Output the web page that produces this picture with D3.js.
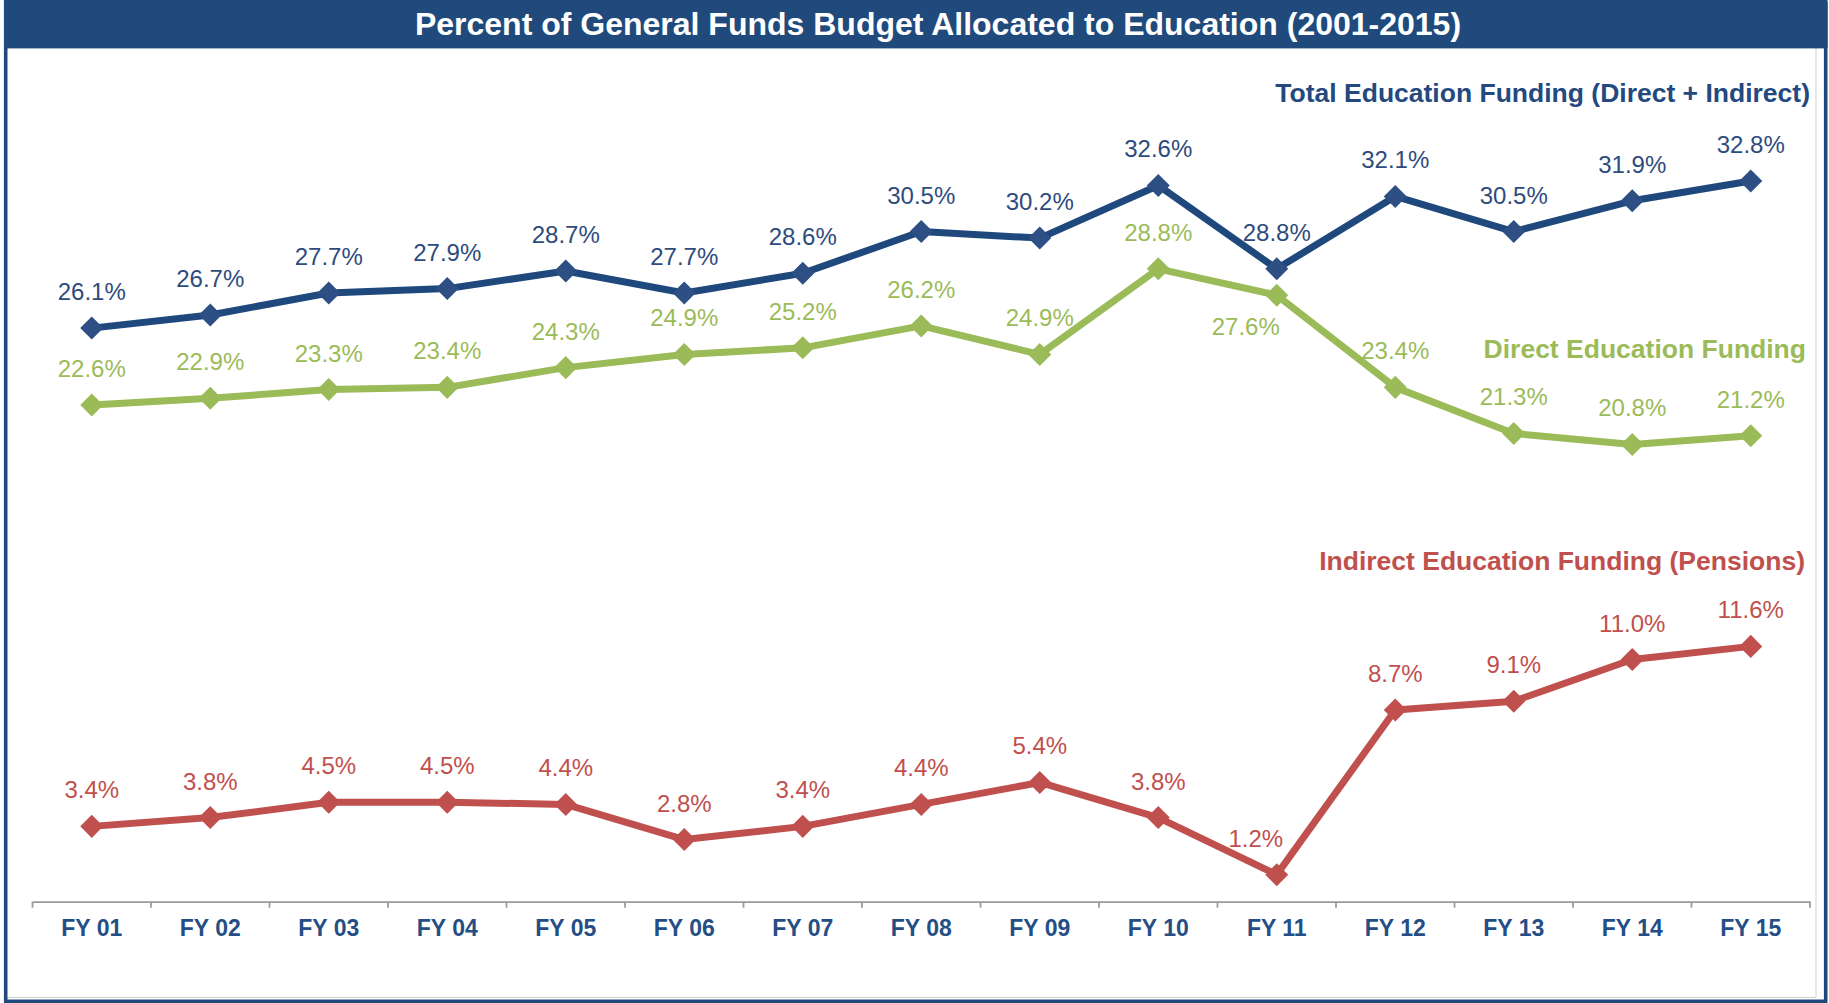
<!DOCTYPE html>
<html>
<head>
<meta charset="utf-8">
<script src="https://cdn.jsdelivr.net/npm/d3@7"></script>
<style>
  html, body { margin: 0; padding: 0; background: #fff; }
  svg { display: block; }
  text { font-family: "Liberation Sans", Arial, Helvetica, sans-serif; }
</style>
</head>
<body>
<div id="chart"></div>
<script>
// ---- Data ----
const categories = ["FY 01","FY 02","FY 03","FY 04","FY 05","FY 06","FY 07","FY 08","FY 09","FY 10","FY 11","FY 12","FY 13","FY 14","FY 15"];
const totalFunding    = [26.1, 26.7, 27.7, 27.9, 28.7, 27.7, 28.6, 30.5, 30.2, 32.6, 28.8, 32.1, 30.5, 31.9, 32.8];
const directFunding   = [22.6, 22.9, 23.3, 23.4, 24.3, 24.9, 25.2, 26.2, 24.9, 28.8, 27.6, 23.4, 21.3, 20.8, 21.2];
const indirectFunding = [3.4, 3.8, 4.5, 4.5, 4.4, 2.8, 3.4, 4.4, 5.4, 3.8, 1.2, 8.7, 9.1, 11.0, 11.6];
const seriesNames = ["Total Education Funding (Direct + Indirect)", "Direct Education Funding", "Indirect Education Funding (Pensions)"];
const titleText = "Percent of General Funds Budget Allocated to Education (2001-2015)";

// ---- Layout / style ----
const W = 1829, H = 1003;
const series = [
  { name: seriesNames[0], values: totalFunding,    line: "#1F497D", marker: "#2D4F84", label: "#2E4B7D", nameFill: "#23497F",
    nameX: 1810, nameY: 102 },
  { name: seriesNames[1], values: directFunding,   line: "#9BBB59", marker: "#9BBB59", label: "#9BBB59", nameFill: "#9BBB59",
    nameX: 1806, nameY: 358 },
  { name: seriesNames[2], values: indirectFunding, line: "#C0504D", marker: "#C0504D", label: "#C0504D", nameFill: "#C0504D",
    nameX: 1805, nameY: 570 }
];
// label placement tweaks (series index, category index) -> offset
const labelTweaks = { "1-10": { dx: -31, dy: 40 }, "2-10": { dx: -21, dy: -28 } };

const svg = d3.select("#chart").append("svg").attr("width", W).attr("height", H);

// frame
svg.append("rect").attr("x", 0).attr("y", 0).attr("width", W).attr("height", H).attr("fill", "#fff");
svg.append("line").attr("x1", 1816).attr("x2", 1816).attr("y1", 48).attr("y2", 997)
  .attr("stroke", "#cfcfcf").attr("stroke-width", 1);
svg.append("line").attr("x1", 7).attr("x2", 1816).attr("y1", 997.5).attr("y2", 997.5)
  .attr("stroke", "#cfcfcf").attr("stroke-width", 1);
svg.append("rect").attr("x", 5.7).attr("y", 1.8).attr("width", 1820).attr("height", 999.5)
  .attr("fill", "none").attr("stroke", "#1F497D").attr("stroke-width", 3.6);
svg.append("rect").attr("x", 4).attr("y", 1.8).attr("width", 1823.6).attr("height", 46.6)
  .attr("fill", "#214A7C");
svg.append("text").attr("x", 938).attr("y", 35).attr("text-anchor", "middle")
  .attr("fill", "#fff").attr("font-weight", "bold").attr("font-size", 32).text(titleText);

// scales
const x = d3.scaleBand().domain(categories).range([32.5, 1810]).padding(0);
const y = d3.scaleLinear().domain([0, 35]).range([901, 901 - 35 * 21.95]);
const cx = c => x(c) + x.bandwidth() / 2;

// axis
const axisG = svg.append("g").attr("transform", "translate(0,901.7)");
const axis = d3.axisBottom(x).tickSize(0).tickPadding(18);
axisG.call(axis);
axisG.select(".domain").attr("stroke", "#9a9a9a").attr("stroke-width", 1.8);
axisG.selectAll(".tick text")
  .attr("font-family", "'Liberation Sans', Arial, sans-serif")
  .attr("font-size", 23).attr("font-weight", "bold").attr("fill", "#244E85")
  .attr("dy", "0.71em");
// tick marks at band boundaries
const bounds = categories.map(c => x(c)).concat([x.range()[1]]);
axisG.selectAll("line.bt").data(bounds).enter().append("line")
  .attr("class", "bt").attr("x1", d => d).attr("x2", d => d).attr("y1", 0).attr("y2", 6)
  .attr("stroke", "#9a9a9a").attr("stroke-width", 1.8);

// lines & markers
const lineGen = d3.line().x((d, i) => cx(categories[i])).y(d => y(d));
const diamond = d3.symbol().type(d3.symbolSquare).size(265);

series.forEach((s, si) => {
  const g = svg.append("g");
  g.append("path").datum(s.values).attr("d", lineGen)
    .attr("fill", "none").attr("stroke", s.line).attr("stroke-width", 7)
    .attr("stroke-linejoin", "round");
  g.selectAll("path.m").data(s.values).enter().append("path").attr("class", "m")
    .attr("d", diamond)
    .attr("transform", (d, i) => `translate(${cx(categories[i])},${y(d)}) rotate(45)`)
    .attr("fill", s.marker);
  g.selectAll("text.v").data(s.values).enter().append("text").attr("class", "v")
    .attr("x", (d, i) => cx(categories[i]) + ((labelTweaks[si + "-" + i] || {}).dx || 0))
    .attr("y", (d, i) => y(d) + ((labelTweaks[si + "-" + i] || {}).dy || -28))
    .attr("text-anchor", "middle").attr("font-size", 24).attr("fill", s.label)
    .text(d => d.toFixed(1) + "%");
  svg.append("text").attr("x", s.nameX).attr("y", s.nameY).attr("text-anchor", "end")
    .attr("font-size", 26.5).attr("font-weight", "bold").attr("fill", s.nameFill)
    .text(s.name);
});
</script>
</body>
</html>
